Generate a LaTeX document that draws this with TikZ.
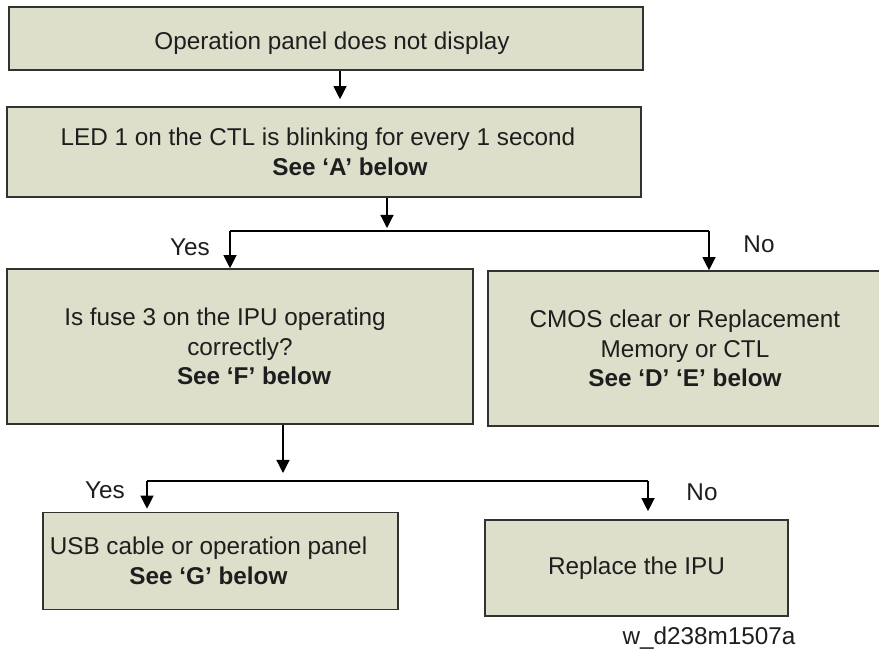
\documentclass[tikz,border=0pt]{standalone}
\usepackage{fontspec}
\setmainfont{Liberation Sans}
\usetikzlibrary{arrows.meta}
\definecolor{boxfill}{RGB}{221,223,203}
\definecolor{boxline}{RGB}{50,50,50}
\definecolor{txt}{RGB}{30,30,30}
\begin{document}
\begin{tikzpicture}[x=1pt,y=-1pt,
  box/.style={draw=boxline, fill=boxfill, line width=1.6pt, inner sep=0pt, align=center, text=txt,
    font=\fontsize{24.3}{29.5}\selectfont},
  arr/.style={draw=black, line width=1.2pt, -{Triangle[length=13pt,width=13pt]}},
  conn/.style={draw=black, line width=1.2pt},
  lbl/.style={text=txt, font=\fontsize{24.3}{29.5}\selectfont, inner sep=0pt}]
\clip (0,0) rectangle (879,652);
\fill[white] (0,0) rectangle (879,652);

\node[box, minimum width=634pt, minimum height=63pt, text height=23pt, text depth=0pt] (b1) at (326,38.5)
  {\hspace*{12pt}Operation panel does not display};
\node[box, minimum width=634pt, minimum height=90pt] (b2) at (324,152)
  {LED 1 on the CTL is blinking for every 1 second\hspace*{12pt}\\ \hspace*{52pt}\textbf{See ‘A’ below}};
\node[box, minimum width=466pt, minimum height=155pt] (b3) at (240,346.5)
  {Is fuse 3 on the IPU operating\hspace*{30pt}\\ correctly?\hspace*{30pt}\\ \hspace*{28pt}\textbf{See ‘F’ below}};
\node[box, minimum width=394pt, minimum height=155pt] (b4) at (685,348.5)
  {CMOS clear or Replacement\\ Memory or CTL\\ \textbf{See ‘D’ ‘E’ below}};
\node[box, minimum width=355pt, minimum height=97pt] (b5) at (220.5,561)
  {USB cable or operation panel\hspace*{24pt}\\ \textbf{See ‘G’ below}\hspace*{24pt}};
\node[box, minimum width=303pt, minimum height=96pt] (b6) at (636.5,568)
  {Replace the IPU};

\coordinate (c1) at (340,0);
\coordinate (j1) at (387,231);
\coordinate (jL) at (230,231);
\coordinate (jR) at (709,231);
\coordinate (j2) at (283,481);
\coordinate (kL) at (147,481);
\coordinate (kR) at (648,481);

\draw[arr, shorten >=7pt] (b1.south -| c1) -- (b2.north -| c1);
\draw[arr, shorten >=3pt] (b2.south -| j1) -- (j1);
\draw[conn] (jL) -- (jR);
\draw[arr] (jL) -- (jL |- b3.north);
\draw[arr] (jR) -- (jR |- b4.north);
\draw[arr, shorten >=8pt] (b3.south -| j2) -- (j2);
\draw[conn] (kL) -- (kR);
\draw[arr, shorten >=3pt] (kL) -- (kL |- b5.north);
\draw[arr, shorten >=8pt] (kR) -- (kR |- b6.north);

\node[lbl] (yes1) at (190,247) {Yes};
\node[lbl] (no1) at (759,244) {No};
\node[lbl] (yes2) at (105,490) {Yes};
\node[lbl] (no2) at (702,492) {No};
\node[lbl] (fig) at (709,638) {w\_d238m1507a};
\end{tikzpicture}
\end{document}
